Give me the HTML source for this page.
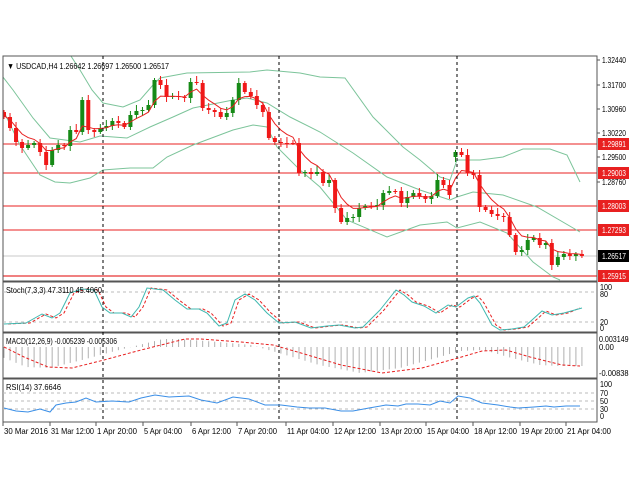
<!DOCTYPE html>
<html><head><meta charset="utf-8"><style>
html,body{margin:0;padding:0;background:#fff;}
svg{display:block;font-family:"Liberation Sans",sans-serif;}
</style></head><body>
<svg id="s" width="630" height="490" viewBox="0 0 630 490" xmlns="http://www.w3.org/2000/svg">
<defs><clipPath id="cm"><rect x="3" y="56" width="594" height="225"/></clipPath></defs>
<rect width="630" height="490" fill="#fff"/>
<g id="m" clip-path="url(#cm)"></g>
<g id="g"></g>
</svg>
<script>
const NS="http://www.w3.org/2000/svg";let G=document.getElementById('m');
function el(t,a,txt){const e=document.createElementNS(NS,t);for(const k in a)e.setAttribute(k,a[k]);if(txt!==undefined)e.textContent=txt;G.appendChild(e);return e;}
function pl(pts,c,w,d){el('polyline',{points:pts.map(p=>p.join(',')).join(' '),fill:'none',stroke:c,'stroke-width':w||1,'stroke-dasharray':d||'none'});}
const lv=[[144,'1.29891'],[173,'1.29003'],[206,'1.28003'],[230,'1.27293'],[276,'1.25915']];
el('line',{x1:3,x2:597,y1:256,y2:256,stroke:'#c8c8c8'});
lv.forEach(l=>el('line',{x1:3,x2:597,y1:l[0],y2:l[0],stroke:l[1]=='1.25915'?'#f08080':'#e82020','stroke-width':l[1]=='1.25915'?2:1}));
const bc='#7cc49a';
pl([[3,30],[67,50],[80,70],[92,90],[103,103],[123,107],[140,100],[153,85],[160,78],[187,73],[250,72],[267,70],[300,73],[320,77],[345,78],[373,117],[403,147],[420,160],[440,177],[450,180],[457,160],[480,160],[503,157],[523,149],[550,149],[567,155],[580,182]],bc);
pl([[3,77],[13,90],[33,118],[50,138],[80,142],[100,136],[127,138],[150,127],[173,117],[193,108],[233,100],[247,98],[267,103],[290,117],[320,132],[353,153],[387,177],[420,190],[450,200],[457,197],[473,192],[503,195],[537,207],[580,232]],bc);
pl([[3,110],[20,145],[40,175],[55,182],[70,183],[90,178],[103,170],[130,168],[153,168],[167,157],[193,145],[233,130],[253,125],[267,127],[277,147],[300,170],[320,187],[347,220],[387,237],[420,225],[447,222],[457,228],[480,222],[507,233],[533,262],[553,277],[560,280]],bc);
const C=[117,128,142,148,145,143,152,165,150,145,146,130,132,100,130,132,128,126,121,123,127,115,111,110,105,80,85,97,96,97,98,82,83,108,110,112,117,113,100,83,92,96,105,112,138,142,143,143,143,173,172,174,172,183,180,208,222,218,217,208,206,206,205,193,191,191,203,197,193,196,199,196,180,185,195,152,155,173,175,207,210,214,216,217,235,252,250,240,238,245,243,265,257,254,256,254,256];
let prev=112,ema=115,ma=[];
C.forEach((c,i)=>{const x=4+i*6.02;let o=prev;if(i==75)o=157;
 const col=c<o?'#168a16':'#f01818';const t=Math.min(o,c),b=Math.max(o,c);
 const h=t-2-((i*7)%5),lo=b+2+((i*5)%4);
 el('line',{x1:x,x2:x,y1:h,y2:lo,stroke:col});
 el('rect',{x:x-2,y:t,width:4,height:Math.max(b-t,1),fill:col});
 prev=c;ema=ema+(c-ema)*0.33;ma.push([x,ema.toFixed(1)]);});
pl(ma,'#e82020');
G=document.getElementById('g');
[[56,281],[282,332],[333,378],[379,422]].forEach(p=>el('rect',{x:3,y:p[0],width:594,height:p[1]-p[0],fill:'none',stroke:'#555'}));
[103,279,457].forEach(x=>el('line',{x1:x,x2:x,y1:56,y2:422,stroke:'#000','stroke-dasharray':'3,3'}));
[292,322].forEach(y=>el('line',{x1:3,x2:597,y1:y,y2:y,stroke:'#bbb','stroke-dasharray':'3,3'}));
const sx=[2,24,40,50,58,68,80,92,100,108,120,129,137,145,161,173,185,197,205,217,225,233,243,253,265,277,293,309,325,337,353,361,378,386,394,402,410,422,434,446,454,466,472,478,490,498,510,522,530,540,550,562,580];
const sy=[324,323,314,318,313,293,289,290,307,313,313,317,307,288,290,300,309,309,313,326,323,300,294,300,313,323,322,328,326,325,328,327,310,300,290,295,302,306,313,305,307,298,296,303,325,330,329,327,320,311,315,313,308];
pl(sx.map((x,i)=>[Math.min(x+6,580),sy[i]]),'#e82020',1,'3,2');
pl(sx.map((x,i)=>[x+2,sy[i]]),'#3fb8b0');
const mx=[4,24,48,72,104,141,185,201,241,273,301,341,382,422,458,482,506,530,562,580],my=[347,357,367,368,360,350,339,339,342,345,353,365,373,368,358,351,350,357,365,366];
function interp(x,X,Y){for(let i=1;i<X.length;i++)if(x<=X[i]){const t=(x-X[i-1])/(X[i]-X[i-1]);return Y[i-1]+t*(Y[i]-Y[i-1]);}return Y[Y.length-1];}
for(let i=0;i<97;i++){const x=4+i*6.02;const v=interp(Math.min(x+22,580),mx,my);el('line',{x1:x,x2:x,y1:347,y2:v,stroke:'#b0b0b0'});}
pl(mx.map((x,i)=>[x,my[i]]),'#e82020',1,'3,2');
[393,401,409].forEach(y=>el('line',{x1:3,x2:597,y1:y,y2:y,stroke:'#bbb','stroke-dasharray':'3,3'}));
pl([[4,408],[16,411],[28,412],[40,409],[50,412],[56,405],[66,403],[76,402],[86,398],[96,402],[112,401],[129,402],[141,398],[155,395],[169,397],[189,396],[201,400],[217,403],[233,397],[249,399],[265,405],[281,405],[297,407],[309,408],[325,408],[341,411],[353,411],[369,408],[386,405],[398,406],[406,404],[418,404],[430,405],[440,401],[450,403],[458,396],[470,398],[482,403],[498,405],[510,407],[518,408],[534,407],[546,406],[554,407],[566,406],[580,406]],'#3a8ee6');
function T(x,y,s,len,fill){const a={x:x,y:y,'font-size':8.5,fill:fill||'#000'};if(len){a.textLength=len;a.lengthAdjust='spacingAndGlyphs';}return el('text',a,s);}
T(7,69,'\u25BC USDCAD,H4  1.26642 1.26697 1.26500 1.26517',162);
T(6,293,'Stoch(7,3,3) 47.3110 45.4060',96);
T(6,344,'MACD(12,26,9) -0.005239 -0.005306',111);
T(6,390,'RSI(14) 37.6646',55);
[[60,'1.32440'],[85,'1.31700'],[109,'1.30960'],[133,'1.30220'],[157,'1.29500'],[182,'1.28760']].forEach(l=>{el('line',{x1:597,x2:600,y1:l[0],y2:l[0],stroke:'#555'});T(602,l[0]+3,l[1],24);});
lv.forEach(l=>{el('rect',{x:598,y:l[0]-6,width:31,height:12,fill:'#e82020'});T(602,l[0]+3,l[1],24,'#fff');});
el('rect',{x:598,y:250,width:31,height:12,fill:'#000'});T(602,259,'1.26517',24,'#fff');
[[287,'100'],[294,'80'],[322,'20'],[328,'0']].forEach(l=>T(600,l[0]+3,l[1],l[1].length*4));
[[339,'0.003149'],[347,'0.00'],[373,'-0.00838']].forEach(l=>T(599,l[0]+3,l[1],l[1].length*3.7));
[[384,'100'],[393,'70'],[401,'50'],[409,'30'],[416,'0']].forEach(l=>T(600,l[0]+3,l[1],l[1].length*4));
el('line',{x1:597,x2:597,y1:56,y2:422,stroke:'#555'});
[[3,'30 Mar 2016',44],[50,'31 Mar 12:00',43],[96,'1 Apr 20:00',40],[143,'5 Apr 04:00',38],[191,'6 Apr 12:00',39],[237,'7 Apr 20:00',39],[286,'11 Apr 04:00',42],[333,'12 Apr 12:00',42],[380,'13 Apr 20:00',41],[426,'15 Apr 04:00',42],[473,'18 Apr 12:00',43],[520,'19 Apr 20:00',42],[566,'21 Apr 04:00',44]].forEach(l=>{el('line',{x1:l[0],x2:l[0],y1:422,y2:426,stroke:'#555'});T(l[0]+1,434,l[1],l[2]);});
</script>
</body></html>
